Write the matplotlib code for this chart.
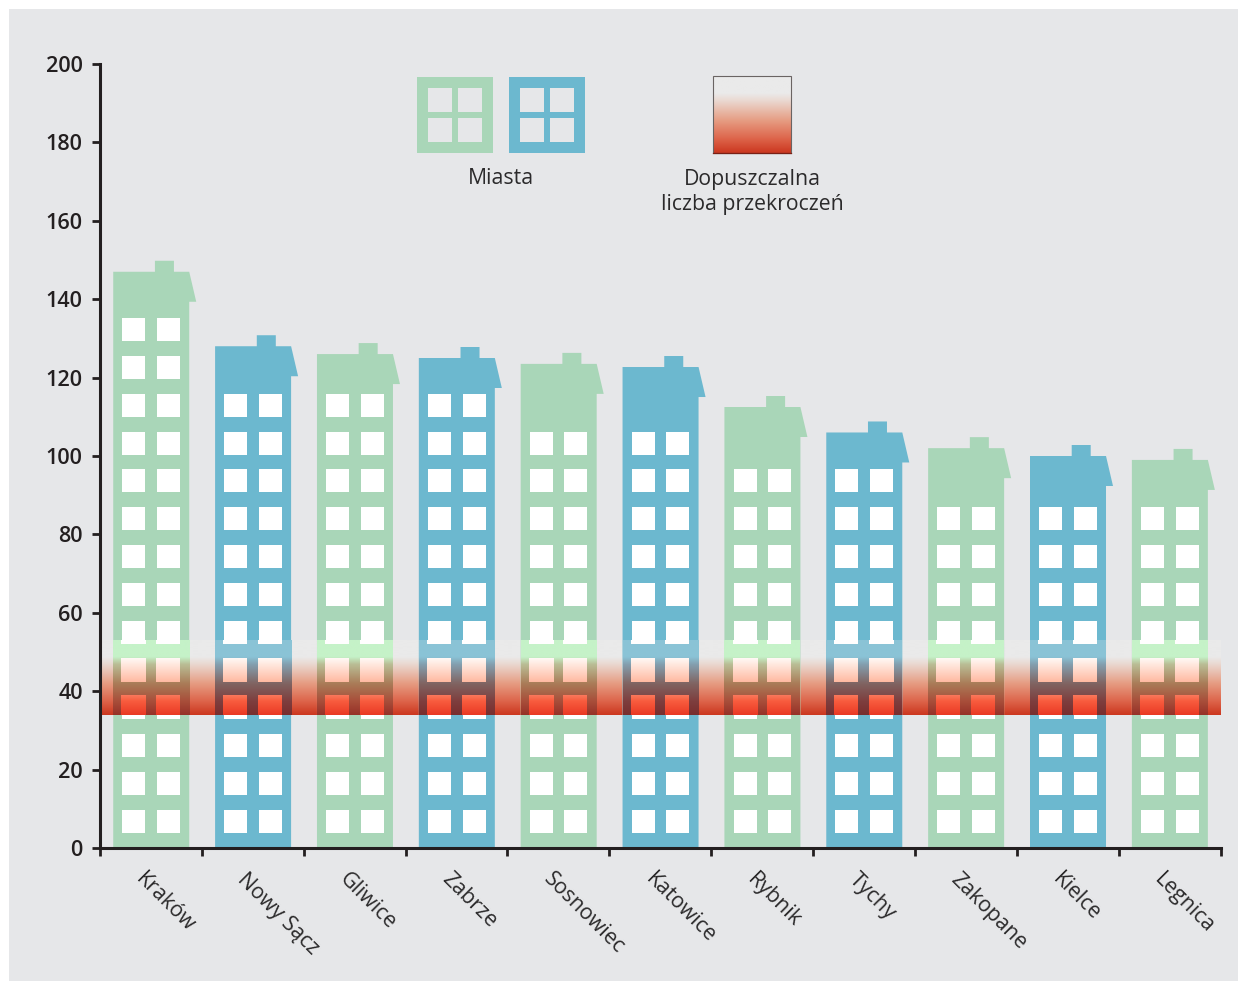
import numpy as np
import matplotlib
matplotlib.use("Agg")
import matplotlib.pyplot as plt
from matplotlib.patches import Rectangle
from matplotlib.transforms import ScaledTranslation

plt.rcParams['font.family'] = ['Open Sans', 'DejaVu Sans']

# Datos
cities = ["Kraków", "Nowy Sącz", "Gliwice", "Zabrze", "Sosnowiec", "Katowice",
          "Rybnik", "Tychy", "Zakopane", "Kielce", "Legnica"]
values = [147, 128, 126, 125, 123.5, 122.7, 112.5, 106, 102, 100, 99]
floors = [14, 12, 12, 12, 11, 11, 10, 10, 9, 9, 9]
y_ticks = list(range(0, 201, 20))
band_low = 34
band_high = 53

GREEN = "#a9d6b8"
BLUE = "#6cb8cf"
BG = "#e6e7e9"
DARK = "#231f20"
TEXT = "#2b2a2b"

W, H = 1238, 981
X0, X1 = 100.0, 1220.5
Y0, Y200 = 848.0, 64.0
px_x = 11 / (X1 - X0)
px_y = 200 / (Y0 - Y200)

# Colores de la banda segun lo que hay debajo (fraccion desde arriba, rgb)
stops_pos = [0, 0.22, 0.32, 0.58, 0.82, 1]
band_stops = {
    "bg": [(234, 234, 234), (234, 234, 234), (234, 216, 208), (230, 156, 130), (221, 100, 74), (204, 56, 32)],
    "green": [(197, 242, 200), (197, 242, 200), (186, 190, 150), (170, 124, 88), (168, 78, 58), (150, 50, 40)],
    "blue": [(138, 195, 214), (138, 195, 214), (132, 160, 176), (128, 100, 98), (126, 62, 62), (120, 46, 46)],
    "win": [(255, 255, 255), (255, 252, 250), (255, 232, 222), (255, 180, 154), (248, 92, 62), (234, 58, 37)],
}


def gradient(kind):
    t = np.linspace(0, 1, 76)
    rgb = np.array(band_stops[kind], dtype=float) / 255
    return np.stack([np.interp(t, stops_pos, rgb[:, c]) for c in range(3)], axis=1)[:, None, :]


def band_strip(ax, kind, x_a, x_b, y_a=band_low, y_b=band_high, z=5):
    # La tira se recorta a [y_a, y_b] para usar el tramo correcto del degradado
    img = gradient(kind)
    n = img.shape[0]
    i0 = int(round((band_high - y_b) / (band_high - band_low) * n))
    i1 = int(round((band_high - y_a) / (band_high - band_low) * n))
    ax.imshow(img[i0:i1], extent=(x_a, x_b, y_a, y_b), aspect="auto", origin="upper",
              interpolation="bilinear", zorder=z)


fig = plt.figure(figsize=(W / 100, H / 100), dpi=100, facecolor="white")
fig.patches.append(Rectangle((9 / W, 0), (W - 9) / W, (H - 9) / H, transform=fig.transFigure,
                             facecolor=BG, edgecolor="none", zorder=-5))

ax = fig.add_axes([X0 / W, 1 - Y0 / H, (X1 - X0) / W, (Y0 - Y200) / H])
ax.patch.set_alpha(0)
ax.set_xlim(0, 11)
ax.set_ylim(0, 200)

win_size = 23 * px_y
win_w = 23 * px_x
pitch = 37.85 * px_y
bw = 76 * px_x

for i, (v, n) in enumerate(zip(values, floors)):
    color = GREEN if i % 2 == 0 else BLUE
    kind = "green" if i % 2 == 0 else "blue"
    left = i + 0.5 - bw / 2 + 0.3 * px_x
    right = left + bw
    roof = v - 30 * px_y
    ch_a = i + 0.5 + 4 * px_x
    ch_b = i + 0.5 + 23 * px_x
    ch_top = v + 11 * px_y
    ax.fill([left, left, ch_a, ch_a, ch_b, ch_b, right, right + 7 * px_x, right, right],
            [0, v, v, ch_top, ch_top, v, v, roof, roof, 0], color=color, lw=0, zorder=2)
    band_strip(ax, kind, left, right)

    for f in range(n):
        y_a = 15 * px_y + f * pitch
        y_b = y_a + win_size
        for off in (9.2, 43.8):
            xa = left + off * px_x
            xb = xa + win_w
            ax.add_patch(Rectangle((xa, y_a), win_w, win_size, color="white", lw=0, zorder=3))
            # Las ventanas dentro de la banda se ven teñidas y desplazadas 1 px
            lo, hi = max(y_a, band_low), min(y_b, band_high)
            if lo < hi:
                band_strip(ax, "win", xa - 1 * px_x, xb, lo, min(hi + 1 * px_y, band_high), z=6)

band_strip(ax, "bg", 2 * px_x, 11, z=1)
ax.set_xlim(0, 11)
ax.set_ylim(0, 200)

for s in ("top", "right"):
    ax.spines[s].set_visible(False)
for s in ("left", "bottom"):
    ax.spines[s].set_linewidth(2.2)
    ax.spines[s].set_color(DARK)
    ax.spines[s].set_zorder(10)

ax.set_yticks(y_ticks)
ax.tick_params(axis="y", length=6, width=2, color=DARK, labelsize=15.6, pad=6.5, labelcolor=DARK)
for lab in ax.get_yticklabels():
    lab.set_fontweight(600)
ax.set_xticks(range(12))
ax.set_xticklabels([])
ax.tick_params(axis="x", which="major", length=6, width=2, color=DARK)
ax.set_xticks(np.arange(11) + 0.5, minor=True)
ax.set_xticklabels(cities, minor=True, rotation=-45, ha="left", va="top", rotation_mode="anchor",
                   fontsize=15.4, color=TEXT)
ax.tick_params(axis="x", which="minor", length=0, pad=15)
shift = ScaledTranslation(-4.5 / 100, 0, fig.dpi_scale_trans)
for lab in ax.get_xticklabels(minor=True):
    lab.set_transform(lab.get_transform() + shift)

# Leyenda en coordenadas de pixel
lg = fig.add_axes([0, 0, 1, 1])
lg.set_xlim(0, W)
lg.set_ylim(H, 0)
lg.axis("off")
lg.patch.set_alpha(0)

for x, color in ((417, GREEN), (509, BLUE)):
    lg.add_patch(Rectangle((x, 77), 76, 76, color=color, lw=0))
    for dx in (11, 41):
        for dy in (11, 41):
            lg.add_patch(Rectangle((x + dx, 77 + dy), 24, 24, color=BG, lw=0))

lg.imshow(gradient("bg"), extent=(713, 791, 153, 76), aspect="auto", origin="upper", interpolation="bilinear")
lg.add_patch(Rectangle((713, 76), 78, 77, fill=False, edgecolor="#6a6463", lw=0.8))
lg.plot([713, 791], [153, 153], color="#7a2015", lw=0.9)
lg.set_xlim(0, W)
lg.set_ylim(H, 0)

lg.text(500.5, 179, "Miasta", ha="center", va="center", fontsize=15.3, color=TEXT)
lg.text(752, 192, "Dopuszczalna\nliczba przekroczeń", ha="center", va="center", fontsize=15.3,
        color=TEXT, linespacing=1.3)

fig.savefig("out.png", dpi=100, facecolor=fig.get_facecolor())
